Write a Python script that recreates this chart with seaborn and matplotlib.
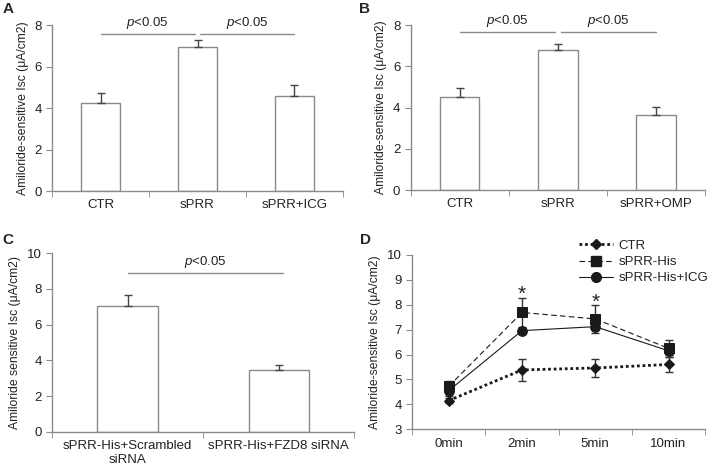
import numpy as np
import pandas as pd
import seaborn as sns
import matplotlib.pyplot as plt
from matplotlib.lines import Line2D

# panel A
a_cats = ['CTR', 'sPRR', 'sPRR+ICG']
a_vals = [4.25, 6.95, 4.6]
a_err = [0.5, 0.35, 0.5]

# panel B
b_cats = ['CTR', 'sPRR', 'sPRR+OMP']
b_vals = [4.5, 6.8, 3.62]
b_err = [0.45, 0.3, 0.42]

# panel C
c_cats = ['sPRR-His+Scrambled\nsiRNA', 'sPRR-His+FZD8 siRNA']
c_vals = [7.02, 3.45]
c_err = [0.63, 0.3]

# panel D
d_times = ['0min', '2min', '5min', '10min']
d_ctr = [4.15, 5.38, 5.46, 5.6]
d_ctr_err = [0.1, 0.45, 0.37, 0.3]
d_his = [4.72, 7.69, 7.43, 6.25]
d_his_err = [0.2, 0.58, 0.55, 0.35]
d_icg = [4.55, 6.96, 7.12, 6.15]
d_icg_err = [0.2, 0.1, 0.1, 0.15]

sns.set_style('white')
plt.rcParams['font.family'] = ['Liberation Sans', 'DejaVu Sans']
plt.rcParams['mathtext.fontset'] = 'custom'
plt.rcParams['mathtext.it'] = 'Liberation Sans:italic'
plt.rcParams['mathtext.rm'] = 'Liberation Sans'

GREY = '#8a8a8a'
TXT = '#222222'
FS = 9.5

fig = plt.figure(figsize=(7.13, 4.67), dpi=100)


def style_axes(ax, n, ylim, yticks, ylabel):
    ax.set_xlim(-0.5, n - 0.5)
    ax.set_ylim(*ylim)
    ax.set_yticks(yticks)
    ax.set_xticks(range(n))
    ax.set_xticks(np.arange(-0.5, n, 1.0), minor=True)
    ax.tick_params(axis='x', which='major', length=0, labelsize=FS, colors=TXT, pad=6)
    ax.tick_params(axis='x', which='minor', length=4, color=GREY, direction='out', bottom=True)
    ax.tick_params(axis='y', length=4, color=GREY, direction='out', left=True, labelsize=FS, colors=TXT)
    for s in ['top', 'right']:
        ax.spines[s].set_visible(False)
    for s in ['left', 'bottom']:
        ax.spines[s].set_color(GREY)
        ax.spines[s].set_linewidth(1)
    ax.set_xlabel('')
    ax.set_ylabel(ylabel, fontsize=8.7, color=TXT)


def bar_panel(ax, cats, vals, errs, ylim, yticks, ylabel):
    df = pd.DataFrame({'cat': cats, 'val': vals})
    sns.barplot(data=df, x='cat', y='val', color='white', edgecolor=GREY,
                linewidth=1, width=0.4, ax=ax)
    ax.errorbar(range(len(cats)), vals, yerr=[np.zeros(len(errs)), errs],
                fmt='none', ecolor='#444444', elinewidth=1, capsize=3, capthick=1)
    style_axes(ax, len(cats), ylim, yticks, ylabel)


def sig(ax, x0, x1, y, text_y):
    ax.plot([x0, x1], [y, y], color=GREY, lw=1, clip_on=False)
    ax.text((x0 + x1) / 2, text_y, '$p$<0.05', ha='center', va='bottom',
            fontsize=FS, color=TXT)


axA = fig.add_axes([0.073, 0.591, 0.408, 0.355])
bar_panel(axA, a_cats, a_vals, a_err, (0, 8), [0, 2, 4, 6, 8],
          'Amiloride-sensitive Isc (μA/cm2)')
sig(axA, 0.0, 0.97, 7.57, 7.72)
sig(axA, 1.03, 2.0, 7.57, 7.72)

axB = fig.add_axes([0.576, 0.593, 0.413, 0.353])
bar_panel(axB, b_cats, b_vals, b_err, (0, 8), [0, 2, 4, 6, 8],
          'Amiloride-sensitive Isc (μA/cm2)')
sig(axB, 0.0, 0.97, 7.65, 7.8)
sig(axB, 1.03, 2.0, 7.65, 7.8)

axC = fig.add_axes([0.073, 0.075, 0.424, 0.383])
bar_panel(axC, c_cats, c_vals, c_err, (0, 10), [0, 2, 4, 6, 8, 10],
          'Amiloride sensitive Isc (μA/cm2)')
sig(axC, 0.0, 1.03, 8.88, 9.05)

axD = fig.add_axes([0.578, 0.081, 0.411, 0.373])
xs = np.arange(len(d_times))
series = [
    ('CTR', d_ctr, d_ctr_err, (0, (1, 1)), 'D', 2.0, 5.5),
    ('sPRR-His', d_his, d_his_err, (0, (5, 3)), 's', 0.8, 7),
    ('sPRR-His+ICG', d_icg, d_icg_err, '-', 'o', 0.8, 7),
]
handles = []
for name, vals, errs, ls, mk, lw, ms in series:
    ax_df = pd.DataFrame({'x': xs, 'y': vals})
    axD.errorbar(xs, vals, yerr=errs, fmt='none', ecolor='#333333',
                 elinewidth=1, capsize=3, capthick=1, zorder=2)
    sns.lineplot(data=ax_df, x='x', y='y', ax=axD, color='#1a1a1a', linestyle=ls,
                 linewidth=lw, marker=mk, markersize=ms, markeredgecolor='#1a1a1a',
                 zorder=3, legend=False)
    handles.append(Line2D([], [], color='#1a1a1a', linestyle=ls, linewidth=lw,
                          marker=mk, markersize=ms, markeredgecolor='#1a1a1a',
                          label=name))
style_axes(axD, 4, (3, 10), range(3, 11), 'Amiloride-sensitive Isc (μA/cm2)')
axD.set_xticklabels(d_times)
axD.text(1, 8.02, '*', ha='center', va='bottom', fontsize=15, color=TXT)
axD.text(2, 7.72, '*', ha='center', va='bottom', fontsize=15, color=TXT)
leg = axD.legend(handles=handles, loc='upper right', bbox_to_anchor=(1.05, 1.155),
                 frameon=False, fontsize=FS, handlelength=2.6, handletextpad=0.4,
                 labelspacing=0.3, numpoints=1)
for t in leg.get_texts():
    t.set_color(TXT)

for lbl, x, y in [('A', 0.004, 0.995), ('B', 0.503, 0.995),
                  ('C', 0.003, 0.502), ('D', 0.505, 0.502)]:
    fig.text(x, y, lbl, fontsize=11, fontweight='bold', va='top', ha='left')

fig.savefig('out.png', dpi=100)
